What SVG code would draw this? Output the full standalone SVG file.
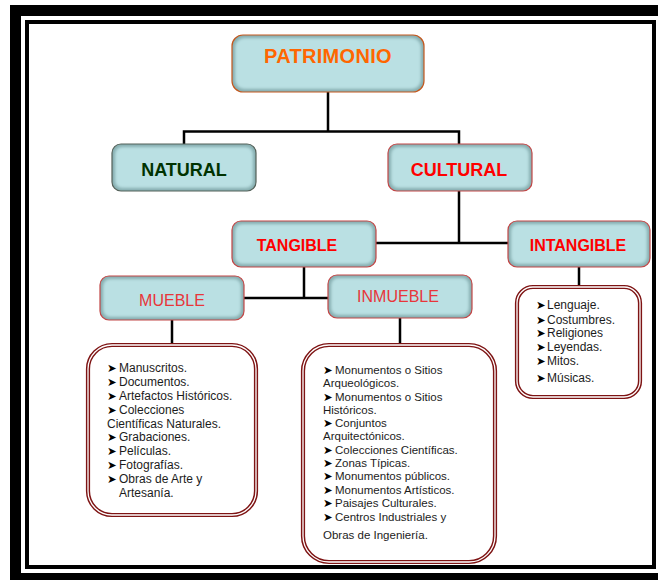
<svg xmlns="http://www.w3.org/2000/svg" width="658" height="580" viewBox="0 0 658 580">
<defs>
<filter id="soft" x="-10%" y="-10%" width="120%" height="120%"><feGaussianBlur stdDeviation="1.6"/></filter>
</defs>
<style>
.edge{fill:#86aeb0}
.face{fill:#bae0e3;filter:url(#soft)}
.bd{fill:none;stroke-width:1.2}
.or{stroke:#c4581e}
.gr{stroke:#55625a}
.rd{stroke:#c24646}
.lbl{font-family:"Liberation Sans",Arial,sans-serif;text-anchor:middle}
.b{font-weight:bold;font-size:16px}
.n{font-size:16px;fill:#e8353a}
.conn{fill:none;stroke:#000;stroke-width:2.5}
.lb1{fill:none;stroke:#7e1414;stroke-width:4.2}
.lb2{fill:none;stroke:#fff;stroke-width:1.3}
.it{font-family:"Liberation Sans",Arial,sans-serif;font-size:12px;fill:#1c1c1c}
.sm{font-size:11.5px}
.bu{font-family:"DejaVu Sans",sans-serif;font-size:11.5px;fill:#000}
</style>
<rect x="10" y="5" width="700" height="600" fill="#000"/>
<rect x="21" y="16" width="700" height="557" fill="#fff"/>
<rect x="27" y="22" width="627" height="545" fill="none" stroke="#000" stroke-width="4"/>

<g id="connectors">
<path class="conn" d="M328 92V131.5M184 144V131.5H459V144"/>
<path class="conn" d="M459 191V243M376 243H508"/>
<path class="conn" d="M304 267V298M244 298H328"/>
<path class="conn" d="M172 320V344M400 318V344M579 267V287"/>
</g>

<g id="patrimonio">
<rect class="edge" x="232" y="35" width="192" height="57" rx="11"/>
<rect class="face" x="235" y="38" width="186" height="51" rx="9"/>
<rect class="bd or" x="232" y="35" width="192" height="57" rx="11"/>
<text class="lbl" x="328" y="63" font-size="20" font-weight="bold" fill="#ff6600" letter-spacing="0.3">PATRIMONIO</text>
</g>

<g id="natural">
<rect class="edge" x="112" y="144" width="144" height="47" rx="9"/>
<rect class="face" x="115" y="147" width="138" height="41" rx="7"/>
<rect class="bd gr" x="112" y="144" width="144" height="47" rx="9"/>
<text class="lbl" x="184" y="176" font-size="18" font-weight="bold" fill="#003300">NATURAL</text>
</g>

<g id="cultural">
<rect class="edge" x="388" y="144" width="144" height="47" rx="9"/>
<rect class="face" x="391" y="147" width="138" height="41" rx="7"/>
<rect class="bd rd" x="388" y="144" width="144" height="47" rx="9"/>
<text class="lbl" x="459" y="176" font-size="18" font-weight="bold" fill="#ff0000">CULTURAL</text>
</g>

<g id="tangible">
<rect class="edge" x="232" y="221" width="144" height="46" rx="9"/>
<rect class="face" x="235" y="224" width="138" height="40" rx="7"/>
<rect class="bd rd" x="232" y="221" width="144" height="46" rx="9"/>
<text class="lbl b" x="297" y="251" fill="#ff0000">TANGIBLE</text>
</g>

<g id="intangible">
<rect class="edge" x="508" y="221" width="142" height="46" rx="9"/>
<rect class="face" x="511" y="224" width="136" height="40" rx="7"/>
<rect class="bd rd" x="508" y="221" width="142" height="46" rx="9"/>
<text class="lbl b" x="578" y="251" fill="#ff0000">INTANGIBLE</text>
</g>

<g id="mueble">
<rect class="edge" x="100" y="276" width="144" height="44" rx="9"/>
<rect class="face" x="103" y="279" width="138" height="38" rx="7"/>
<rect class="bd rd" x="100" y="276" width="144" height="44" rx="9"/>
<text class="lbl n" x="172" y="306">MUEBLE</text>
</g>

<g id="inmueble">
<rect class="edge" x="328" y="275" width="144" height="43" rx="9"/>
<rect class="face" x="331" y="278" width="138" height="37" rx="7"/>
<rect class="bd rd" x="328" y="275" width="144" height="43" rx="9"/>
<text class="lbl n" x="398" y="302">INMUEBLE</text>
</g>

<g id="lista-mueble">
<rect class="lb1" x="88" y="345" width="168" height="170" rx="24"/>
<rect class="lb2" x="88" y="345" width="168" height="170" rx="24"/>
<text class="it" x="107" y="372"><tspan class="bu">➤</tspan><tspan x="119">Manuscritos.</tspan></text>
<text class="it" x="107" y="386"><tspan class="bu">➤</tspan><tspan x="119">Documentos.</tspan></text>
<text class="it" x="107" y="400"><tspan class="bu">➤</tspan><tspan x="119">Artefactos Históricos.</tspan></text>
<text class="it" x="107" y="414"><tspan class="bu">➤</tspan><tspan x="119">Colecciones</tspan></text>
<text class="it" x="107" y="427.5">Científicas Naturales.</text>
<text class="it" x="107" y="441"><tspan class="bu">➤</tspan><tspan x="119">Grabaciones.</tspan></text>
<text class="it" x="107" y="455"><tspan class="bu">➤</tspan><tspan x="119">Películas.</tspan></text>
<text class="it" x="107" y="469"><tspan class="bu">➤</tspan><tspan x="119">Fotografías.</tspan></text>
<text class="it" x="107" y="483"><tspan class="bu">➤</tspan><tspan x="119">Obras de Arte y</tspan></text>
<text class="it" x="119" y="497">Artesanía.</text>
</g>

<g id="lista-inmueble">
<rect class="lb1" x="303" y="345" width="192" height="217" rx="26"/>
<rect class="lb2" x="303" y="345" width="192" height="217" rx="26"/>
<text class="it sm" x="323" y="374"><tspan class="bu">➤</tspan><tspan x="335">Monumentos o Sitios</tspan></text>
<text class="it sm" x="323" y="387">Arqueológicos.</text>
<text class="it sm" x="323" y="400.5"><tspan class="bu">➤</tspan><tspan x="335">Monumentos o Sitios</tspan></text>
<text class="it sm" x="323" y="413.5">Históricos.</text>
<text class="it sm" x="323" y="427"><tspan class="bu">➤</tspan><tspan x="335">Conjuntos</tspan></text>
<text class="it sm" x="323" y="440">Arquitectónicos.</text>
<text class="it sm" x="323" y="453.5"><tspan class="bu">➤</tspan><tspan x="335">Colecciones Científicas.</tspan></text>
<text class="it sm" x="323" y="467"><tspan class="bu">➤</tspan><tspan x="335">Zonas Típicas.</tspan></text>
<text class="it sm" x="323" y="480"><tspan class="bu">➤</tspan><tspan x="335">Monumentos públicos.</tspan></text>
<text class="it sm" x="323" y="493.5"><tspan class="bu">➤</tspan><tspan x="335">Monumentos Artísticos.</tspan></text>
<text class="it sm" x="323" y="507"><tspan class="bu">➤</tspan><tspan x="335">Paisajes Culturales.</tspan></text>
<text class="it sm" x="323" y="520.5"><tspan class="bu">➤</tspan><tspan x="335">Centros Industriales y</tspan></text>
<text class="it sm" x="323" y="538.5">Obras de Ingeniería.</text>
</g>

<g id="lista-intangible">
<rect class="lb1" x="517" y="287" width="123" height="110" rx="16"/>
<rect class="lb2" x="517" y="287" width="123" height="110" rx="16"/>
<text class="it" x="536" y="309"><tspan class="bu">➤</tspan><tspan x="547">Lenguaje.</tspan></text>
<text class="it" x="536" y="323.5"><tspan class="bu">➤</tspan><tspan x="547">Costumbres.</tspan></text>
<text class="it" x="536" y="337"><tspan class="bu">➤</tspan><tspan x="547">Religiones</tspan></text>
<text class="it" x="536" y="351"><tspan class="bu">➤</tspan><tspan x="547">Leyendas.</tspan></text>
<text class="it" x="536" y="365"><tspan class="bu">➤</tspan><tspan x="547">Mitos.</tspan></text>
<text class="it" x="536" y="382"><tspan class="bu">➤</tspan><tspan x="547">Músicas.</tspan></text>
</g>
</svg>
